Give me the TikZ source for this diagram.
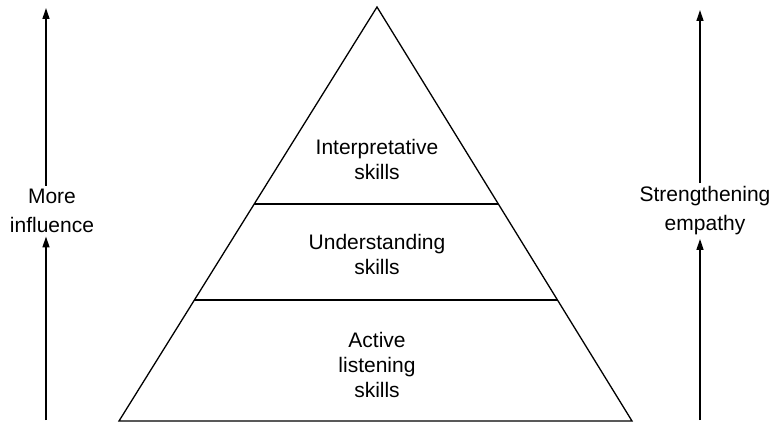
\documentclass[tikz,border=0pt]{standalone}
\usepackage{fontspec}
\setmainfont{Liberation Sans}
\usetikzlibrary{arrows.meta,calc}
\tikzset{
  skill/.style={align=center, font=\fontsize{21bp}{25bp}\selectfont},
  side/.style={align=center, font=\fontsize{21bp}{29bp}\selectfont, inner sep=3bp},
  up/.style={-{Triangle[length=11bp,width=7bp]}}
}
\begin{document}
\begin{tikzpicture}[x=1bp,y=1bp,line width=1.3bp]
  \useasboundingbox (0,0) rectangle (778,425);
  % big triangle, apex on top
  \coordinate (apex) at (377,418);
  \coordinate (bl) at (119,4);
  \coordinate (br) at (632,4);
  \draw[line join=miter] (bl) -- (apex) -- (br) -- cycle;
  % two lines across it, splitting it in three layers
  \draw ($(bl)!0.292!(apex)$) -- ($(br)!0.292!(apex)$);
  \draw ($(bl)!0.524!(apex)$) -- ($(br)!0.524!(apex)$);

  % text of each layer
  \node[skill] (interp) at (377,266) {Interpretative\\skills};
  \node[skill] (under) at (377,171) {Understanding\\skills};
  \node[skill] (active) at (377,60) {Active\\listening\\skills};

  % left arrow, broken by its label
  \node[side] (infl) at (52,214) {More\\influence};
  \coordinate (lbot) at (46,5);
  \coordinate (ltop) at (46,417);
  \draw[up] (lbot) -- (lbot |- infl.south);
  \draw[up] (ltop |- infl.north) -- (ltop);

  % right arrow, same thing
  \node[side] (emp) at (705,214) {Strengthening\\empathy};
  \coordinate (rbot) at (700,5);
  \coordinate (rtop) at (700,415);
  \draw[up] (rbot) -- (rbot |- emp.south);
  \draw[up] (rtop |- emp.north) -- (rtop);
\end{tikzpicture}
\end{document}
